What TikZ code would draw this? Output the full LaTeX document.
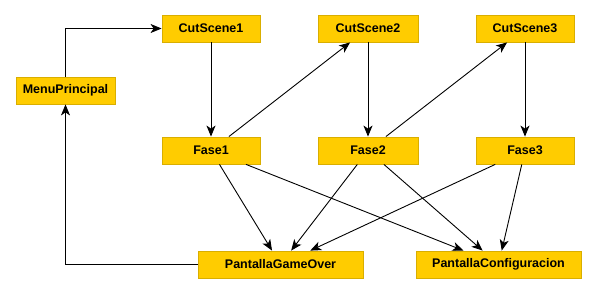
\documentclass[tikz,border=0pt]{standalone}
\usepackage{fontspec}
\setmainfont{Liberation Sans}
\usetikzlibrary{arrows.meta}
\definecolor{BoxGold}{HTML}{FFCC00}
\definecolor{BoxEdge}{HTML}{D9AE00}
\tikzset{
  % Screen / state box
  scr/.style={
    rectangle, draw=BoxEdge, fill=BoxGold, line width=0.8pt,
    minimum width=#1, minimum height=27pt, inner sep=0pt,
    font=\fontsize{12.5}{14}\selectfont\bfseries
  },
  scr/.default=98pt,
  % Transition arrow
  arr/.style={
    -{Stealth[length=11pt,width=9pt,inset=3pt]},
    line width=0.9pt, color=black
  }
}
\begin{document}
\begin{tikzpicture}[x=1pt, y=-1pt]
  \useasboundingbox (0,0) rectangle (597,294);

  % Menu and cut scenes
  \node[scr=99pt] (menu) at (65.5,90.5) {MenuPrincipal};
  \node[scr] (cut1) at (211,28.5) {CutScene1};
  \node[scr=100pt] (cut2) at (368,28.5) {CutScene2};
  \node[scr] (cut3) at (525,28.5) {CutScene3};

  % Levels
  \node[scr] (fase1) at (211,150.5) {Fase1};
  \node[scr=100pt] (fase2) at (368,150.5) {Fase2};
  \node[scr] (fase3) at (525,150.5) {Fase3};

  % End screens
  \node[scr=165pt] (over) at (280.5,264.5) {PantallaGameOver};
  \node[scr=165pt] (config) at (498.5,264.5) {PantallaConfiguracion};

  \draw[arr] (menu.north) |- (cut1.west);
  \draw[arr] (over.west) -| (menu.south);

  \draw[arr] (cut1) -- (fase1);
  \draw[arr] (cut2) -- (fase2);
  \draw[arr] (cut3) -- (fase3);
  \draw[arr] (fase1) -- (cut2);
  \draw[arr] (fase2) -- (cut3);

  \foreach \f in {fase1,fase2,fase3} {
    \draw[arr] (\f) -- (over);
    \draw[arr] (\f) -- (config);
  }
\end{tikzpicture}
\end{document}
